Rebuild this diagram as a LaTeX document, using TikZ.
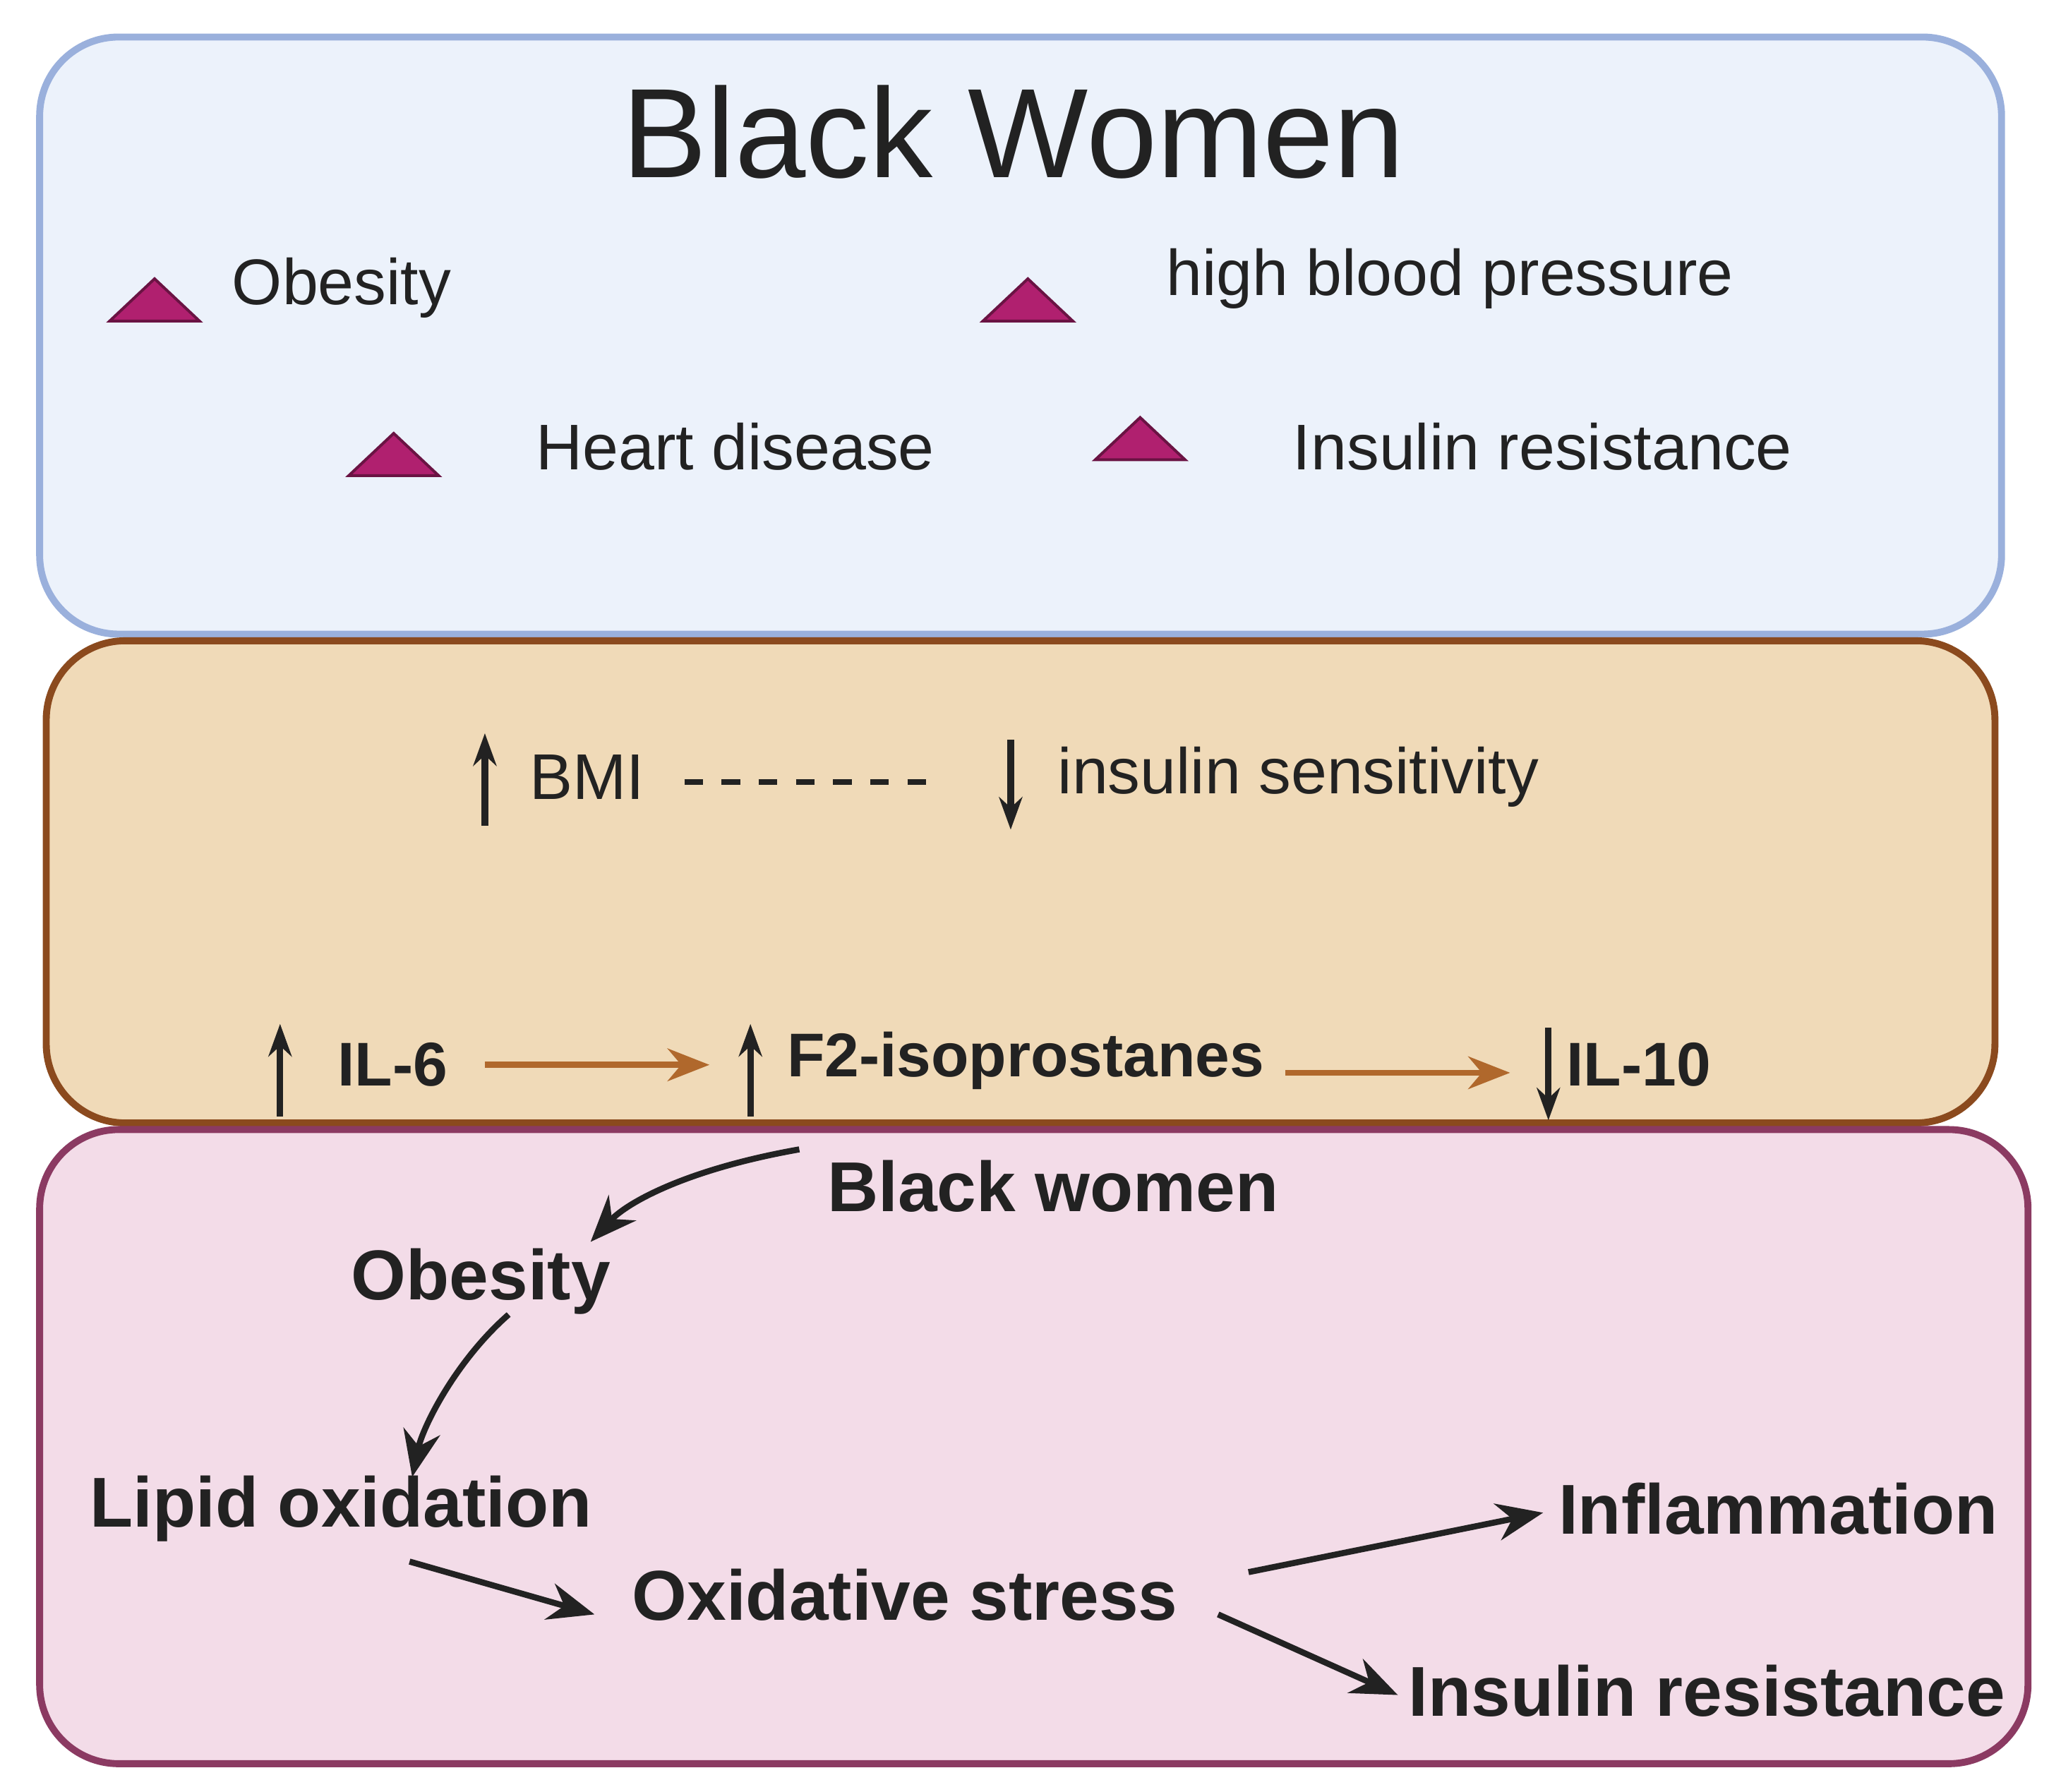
\documentclass[tikz,border=0pt]{standalone}
\usepackage{fontspec}
\setmainfont{Liberation Sans}
\usetikzlibrary{arrows.meta}
\definecolor{tri}{HTML}{B0206F}
\definecolor{brn}{HTML}{B0682C}
\definecolor{ink}{HTML}{222222}
\definecolor{f1}{HTML}{ECF2FB}\definecolor{d1}{HTML}{9AB0DC}
\definecolor{f2}{HTML}{F0DAB8}\definecolor{d2}{HTML}{8B4A1E}
\definecolor{f3}{HTML}{F3DCE8}\definecolor{d3}{HTML}{8B3A62}
\begin{document}
\begin{tikzpicture}[x=0.01cm,y=-0.01cm,
  tri/.style={fill=tri,draw=tri!60!black,line width=0.6pt},
  lab/.style={font=\fontsize{13.9}{16}\selectfont,anchor=west,text=ink,inner sep=0},
  blab/.style={font=\bfseries\fontsize{15.2}{18}\selectfont,text=ink,inner sep=0},
  mlab/.style={font=\bfseries\fontsize{13.3}{16}\selectfont,text=ink,inner sep=0,anchor=west},
  up/.style={-{Stealth[length=7pt,width=5pt]},line width=1.4pt,ink},
  arr/.style={-{Stealth[length=10pt,width=8pt]},line width=1.3pt,ink},
  barr/.style={-{Stealth[length=9pt,width=7pt]},line width=1.3pt,brn}]
\useasboundingbox (0,0) rectangle (1560,1356);
\draw[fill=f1,draw=d1,line width=1.5pt,rounded corners=17pt] (30,28) rectangle (1515,480);
\draw[fill=f2,draw=d2,line width=1.5pt,rounded corners=17pt] (35,485) rectangle (1510,850);
\draw[fill=f3,draw=d3,line width=1.5pt,rounded corners=17pt] (30,855) rectangle (1535,1335);
\node[font=\fontsize{27.4}{32}\selectfont,text=ink] (title) at (767,100) {Black Women};
\foreach \n/\x/\y in {t1/117/228,t2/778/228,t3/298/345,t4/863/333}
  \draw[tri] (\x-34,\y+15) -- (\x,\y-17) -- (\x+34,\y+15) -- cycle;
\node[lab] (ob) at (175,218) {Obesity};
\node[lab] (hbp) at (882,211) {high blood pressure};
\node[lab] (hd) at (405,338) {Heart disease};
\node[lab] (ir) at (978,338) {Insulin resistance};
% middle
\coordinate (a1s) at (367,625); \coordinate (a1e) at (367,555);
\draw[up] (a1s) -- (a1e);
\node[lab] (bmi) at (400,588) {BMI};
\coordinate (d1) at (518,592); \coordinate (d2) at (702,592);
\draw[ink,line width=1.3pt,dash pattern=on 4pt off 4pt] (d1) -- (d2);
\coordinate (a2s) at (765,560); \coordinate (a2e) at (765,628);
\draw[up] (a2s) -- (a2e);
\node[lab] (is) at (800,588) {insulin sensitivity};
\coordinate (a3s) at (212,845); \coordinate (a3e) at (212,775);
\draw[up] (a3s) -- (a3e);
\node[mlab] (il6) at (255,806) {IL-6};
\coordinate (a4s) at (568,845); \coordinate (a4e) at (568,775);
\draw[up] (a4s) -- (a4e);
\node[mlab] (f2) at (595,803) {F2-isoprostanes};
\coordinate (a5s) at (1172,778); \coordinate (a5e) at (1172,848);
\draw[up] (a5s) -- (a5e);
\node[mlab] (il10) at (1185,806) {IL-10};
\coordinate (b1) at (367,806); \coordinate (b2) at (537,806);
\draw[barr] (b1) -- (b2);
\coordinate (b3) at (973,812); \coordinate (b4) at (1143,812);
\draw[barr] (b3) -- (b4);
% bottom
\node[blab] (bw) at (797,898) {Black women};
\node[blab] (obb) at (364,970) {Obesity};
\node[blab] (lo) at (258,1142) {Lipid oxidation};
\node[blab] (os) at (685,1207) {Oxidative stress};
\node[blab] (inf) at (1346,1142) {Inflammation};
\node[blab] (irb) at (1292,1280) {Insulin resistance};
\draw[arr] (605,870) .. controls (520,885) and (475,910) .. (447,940);
\draw[arr] (385,995) .. controls (345,1030) and (320,1080) .. (312,1118);
\draw[arr] (310,1182) -- (450,1222);
\draw[arr] (945,1190) -- (1168,1145);
\draw[arr] (922,1222) -- (1058,1283);
\end{tikzpicture}
\end{document}
